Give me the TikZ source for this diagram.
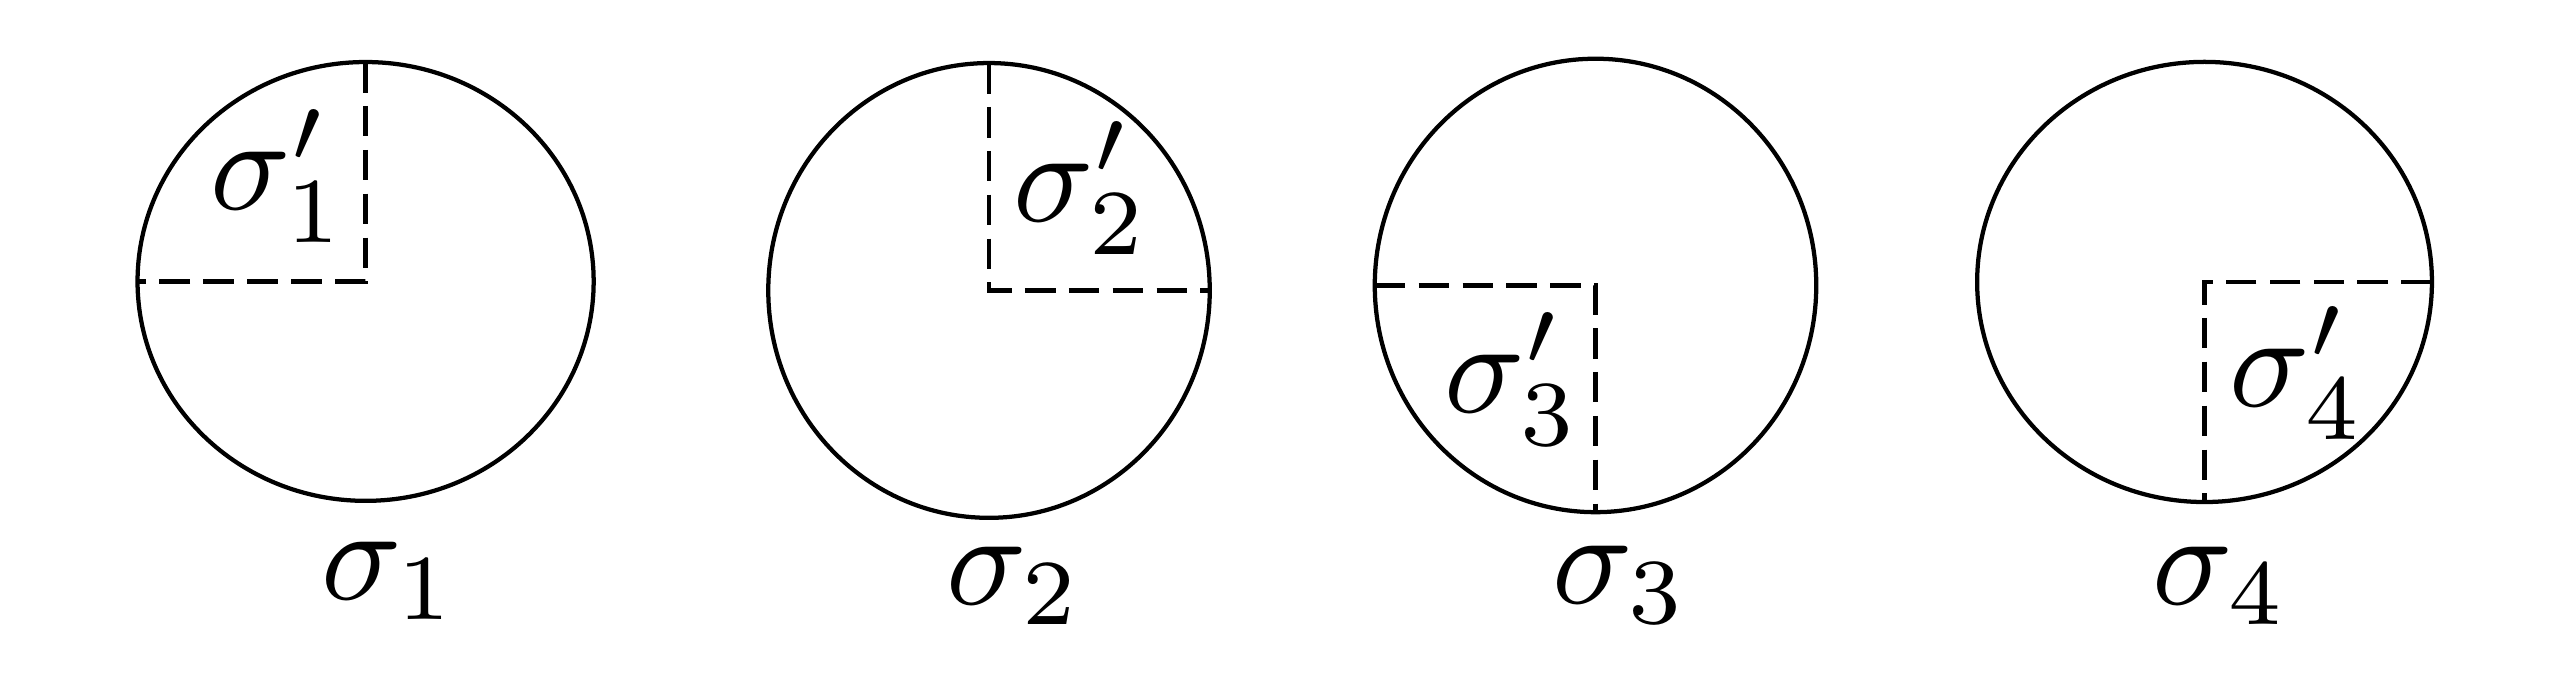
\documentclass[tikz,border=0pt]{standalone}
\usepackage{amsmath,amssymb}
\usepackage{tikz}
\usetikzlibrary{shapes.geometric}

\begin{document}
\begin{tikzpicture}[x=7.52pt,y=7.52pt,
  disc/.style={draw,ellipse,line width=0.32pt,inner sep=0pt,outer sep=0pt},
  cut/.style={dashed,dash pattern=on 2.3pt off 1pt,line width=0.32pt},
  lab/.style={inner sep=0pt,anchor=base west}]
\useasboundingbox (0,0) rectangle (25.64,6.96);
% the four discs
\node[disc,minimum width=34.3pt,minimum height=33.0pt] (d1) at (3.656,4.145) {};
\node[disc,minimum width=33.2pt,minimum height=34.2pt] (d2) at (9.89,4.055) {};
\node[disc,minimum width=33.2pt,minimum height=34.1pt] (d3) at (15.955,4.105) {};
\node[disc,minimum width=34.2pt,minimum height=33.1pt] (d4) at (22.045,4.14) {};
% quarters
\draw[cut] (d1.north) |- (d1.west);
\draw[cut] (d2.north) |- (d2.east);
\draw[cut] (d3.west) -| (d3.south);
\draw[cut] (d4.east) -| (d4.south);
\node[lab] (q1) at (2.08,4.86) {$\sigma'_1$};
\node[lab] (q2) at (10.11,4.74) {$\sigma'_2$};
\node[lab] (q3) at (14.42,2.83) {$\sigma'_3$};
\node[lab] (q4) at (22.27,2.89) {$\sigma'_4$};
% names below
\node[lab] (s1) at (3.19,0.96) {$\sigma_1$};
\node[lab] (s2) at (9.44,0.91) {$\sigma_2$};
\node[lab] (s3) at (15.50,0.92) {$\sigma_3$};
\node[lab] (s4) at (21.50,0.91) {$\sigma_4$};
\end{tikzpicture}
\end{document}
